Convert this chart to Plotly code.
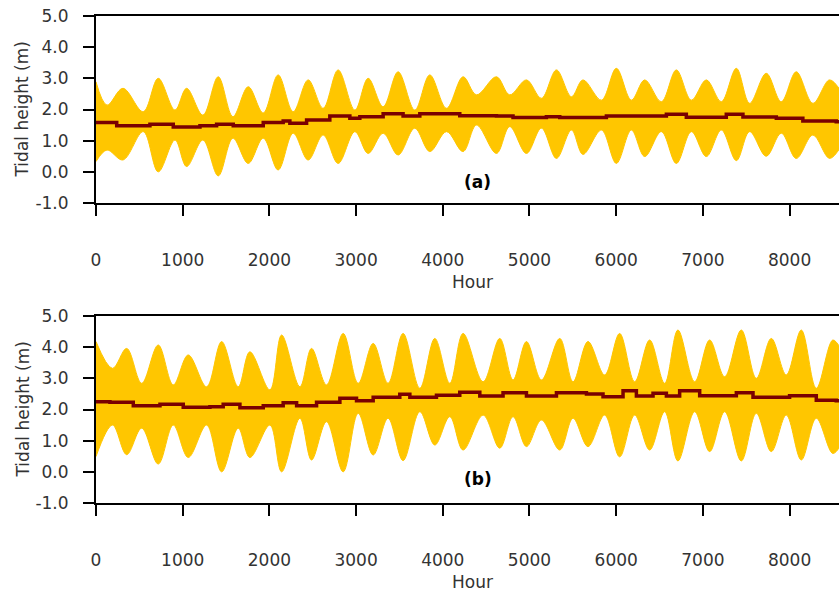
import plotly.graph_objects as go

# ---------------- data ----------------
# envelope of the hourly tidal signal, read at springs / neaps
hours_a = [0, 127, 311, 545, 718, 911, 1045, 1233, 1410, 1579, 1756, 1929, 2101, 2274,
           2447, 2620, 2793, 2986, 3139, 3312, 3485, 3677, 3850, 4043, 4234, 4389,
           4619, 4772, 4965, 5138, 5311, 5484, 5617, 5830, 6002, 6175, 6329, 6521,
           6694, 6867, 7040, 7213, 7386, 7539, 7731, 7904, 8077, 8269, 8461, 8600]
upper_a = [2.89, 2.14, 2.68, 1.93, 3.00, 1.98, 2.68, 1.82, 3.05, 1.77, 2.73, 1.89, 3.11, 1.93,
           2.95, 2.04, 3.27, 1.98, 3.00, 2.09, 3.21, 1.98, 3.11, 2.04, 3.05, 2.47,
           3.05, 2.47, 2.95, 2.36, 3.27, 2.41, 2.95, 2.30, 3.32, 2.30, 2.95, 2.25,
           3.27, 2.30, 2.95, 2.25, 3.32, 2.20, 3.16, 2.25, 3.21, 2.20, 2.95, 2.55]
lower_a = [0.33, 0.70, 0.38, 1.29, 0.00, 1.02, 0.17, 1.02, -0.13, 1.08, 0.27, 1.08, 0.06, 1.24,
           0.38, 1.18, 0.27, 1.29, 0.59, 1.24, 0.54, 1.40, 0.65, 1.29, 0.65, 1.50,
           0.59, 1.45, 0.59, 1.40, 0.43, 1.34, 0.56, 1.34, 0.27, 1.34, 0.49, 1.29,
           0.27, 1.29, 0.49, 1.34, 0.36, 1.29, 0.50, 1.24, 0.43, 1.18, 0.43, 0.85]
mean_hours_a = [0, 239, 622, 891, 1199, 1391, 1583, 1929, 2159, 2236, 2429, 2697, 2928, 3043,
                3312, 3542, 3735, 4196, 4619, 4810, 5195, 5349, 5887, 6233, 6579, 6809,
                7270, 7462, 7847, 8153, 8538, 8600]
mean_a = [1.58, 1.48, 1.53, 1.44, 1.48, 1.53, 1.48, 1.58, 1.63, 1.56, 1.66, 1.79, 1.72, 1.77,
          1.86, 1.79, 1.86, 1.80, 1.79, 1.74, 1.77, 1.74, 1.79, 1.79, 1.85, 1.75,
          1.85, 1.76, 1.72, 1.63, 1.61, 1.61]

hours_b = [0, 190, 354, 527, 718, 891, 1064, 1276, 1449, 1640, 1775, 2006, 2141, 2352, 2486,
           2659, 2851, 3024, 3197, 3369, 3542, 3735, 3908, 4081, 4234, 4465, 4657,
           4810, 4965, 5138, 5349, 5502, 5675, 5867, 6040, 6213, 6386, 6559, 6712,
           6905, 7078, 7251, 7443, 7616, 7789, 7962, 8135, 8308, 8499, 8600]
upper_b = [4.18, 3.32, 3.96, 2.84, 4.07, 2.79, 3.75, 2.73, 4.18, 2.73, 3.85, 2.63, 4.39, 2.73, 3.96,
           2.79, 4.44, 2.84, 4.12, 2.84, 4.44, 2.68, 4.28, 2.84, 4.44, 2.89, 4.28,
           2.95, 4.18, 2.95, 4.28, 2.89, 4.18, 3.11, 4.44, 2.89, 4.23, 2.84, 4.55,
           2.89, 4.23, 3.05, 4.55, 3.00, 4.28, 3.11, 4.55, 2.68, 4.23, 3.90]
lower_b = [0.49, 1.50, 0.55, 1.40, 0.25, 1.50, 0.46, 1.50, 0.00, 1.40, 0.46, 1.50, 0.00, 1.72, 0.38,
           1.61, 0.00, 1.88, 0.54, 1.72, 0.36, 1.93, 0.86, 1.77, 0.70, 1.82, 0.76,
           1.77, 0.81, 1.66, 0.70, 1.72, 0.81, 1.82, 0.48, 1.82, 0.70, 1.93, 0.35,
           1.93, 0.65, 1.93, 0.35, 1.88, 0.65, 1.82, 0.38, 1.72, 0.59, 0.90]
mean_hours_b = [0, 161, 430, 738, 1006, 1314, 1467, 1660, 1929, 2159, 2314, 2544, 2813, 3005,
                3197, 3504, 3620, 3927, 4196, 4427, 4695, 4965, 5311, 5657, 5848, 6079,
                6233, 6425, 6579, 6732, 6963, 7386, 7578, 8000, 8308, 8538, 8600]
mean_b = [2.25, 2.23, 2.12, 2.17, 2.07, 2.09, 2.17, 2.06, 2.12, 2.22, 2.12, 2.23, 2.36, 2.28,
          2.39, 2.49, 2.39, 2.46, 2.55, 2.43, 2.54, 2.43, 2.54, 2.50, 2.41, 2.60,
          2.43, 2.52, 2.43, 2.60, 2.44, 2.54, 2.39, 2.44, 2.30, 2.28, 2.28]

x_ticks = [0, 1000, 2000, 3000, 4000, 5000, 6000, 7000, 8000]
y_ticks = [-1, 0, 1, 2, 3, 4, 5]
y_tick_labels = ["-1.0", "0.0", "1.0", "2.0", "3.0", "4.0", "5.0"]
panel_labels = ["(a)", "(b)"]

# ---------------- styling ----------------
ORANGE = "#FFC600"
DARKRED = "#7A0000"
FONT = "DejaVu Sans"
GREY = "#333333"
W, H = 839, 591
ML = 96

fig = go.Figure()

panels = [
    (hours_a, upper_a, lower_a, mean_hours_a, mean_a, "x", "y"),
    (hours_b, upper_b, lower_b, mean_hours_b, mean_b, "x2", "y2"),
]
for hrs, up, lo, mh, mv, xa, ya in panels:
    fig.add_trace(go.Scatter(
        x=hrs, y=lo, mode="lines",
        line=dict(color=ORANGE, width=1, shape="spline", smoothing=1.0),
        xaxis=xa, yaxis=ya, showlegend=False, hoverinfo="skip"))
    fig.add_trace(go.Scatter(
        x=hrs, y=up, mode="lines", fill="tonexty", fillcolor=ORANGE,
        line=dict(color=ORANGE, width=1, shape="spline", smoothing=1.0),
        xaxis=xa, yaxis=ya, showlegend=False, hoverinfo="skip"))
    fig.add_trace(go.Scatter(
        x=mh, y=mv, mode="lines", line=dict(color=DARKRED, width=3.5, shape="hv"),
        xaxis=xa, yaxis=ya, showlegend=False))

def px_to_paper_y(py):
    return 1 - py / H

dom_a = [px_to_paper_y(203), px_to_paper_y(16)]
dom_b = [px_to_paper_y(503), px_to_paper_y(316)]

xcommon = dict(range=[0, 8570], tickvals=x_ticks, ticks="outside", ticklen=11, tickwidth=2,
               tickcolor="black", showline=True, linewidth=2, linecolor="black", mirror=True,
               showgrid=False, zeroline=False, tickfont=dict(family=FONT, size=17, color=GREY),
               ticklabelstandoff=30, domain=[0, 1], automargin=False)
ycommon = dict(range=[-1, 5], tickvals=y_ticks, ticktext=y_tick_labels, ticks="outside",
               ticklen=11, tickwidth=2, tickcolor="black", showline=True, linewidth=2,
               linecolor="black", mirror=False, showgrid=False, zeroline=False,
               tickfont=dict(family=FONT, size=17, color=GREY), ticklabelstandoff=11,
               automargin=False)

fig.update_layout(
    width=W, height=H, margin=dict(l=ML, r=0, t=0, b=0),
    paper_bgcolor="white", plot_bgcolor="white",
    xaxis=dict(anchor="y", **xcommon),
    yaxis=dict(anchor="x", domain=dom_a, **ycommon),
    xaxis2=dict(anchor="y2", **xcommon),
    yaxis2=dict(anchor="x2", domain=dom_b, **ycommon),
)

pw = W - ML
def px_to_paper_x(px):
    return (px - ML) / pw

annotations = []
for ya, cy, hour_y, lab, lab_y in [("y", 109.5, 282, panel_labels[0], -0.34),
                                    ("y2", 409.5, 582, panel_labels[1], -0.24)]:
    annotations.append(dict(text="Tidal height (m)", textangle=-90, xref="paper", yref="paper",
                            x=px_to_paper_x(22), y=px_to_paper_y(cy), showarrow=False,
                            xanchor="center", yanchor="middle",
                            font=dict(family=FONT, size=17, color=GREY)))
    annotations.append(dict(text="Hour", xref="paper", yref="paper",
                            x=px_to_paper_x(472), y=px_to_paper_y(hour_y), showarrow=False,
                            xanchor="center", yanchor="middle",
                            font=dict(family=FONT, size=17, color=GREY)))
    annotations.append(dict(text="<b>%s</b>" % lab, xref="x" if ya == "y" else "x2", yref=ya,
                            x=4406, y=lab_y, showarrow=False, xanchor="center", yanchor="middle",
                            font=dict(family=FONT, size=17, color="black")))
fig.update_layout(annotations=annotations)

fig.write_html("out.html", config={"displayModeBar": False},
               post_script="document.body.style.margin='0px';document.body.style.overflow='hidden';")
